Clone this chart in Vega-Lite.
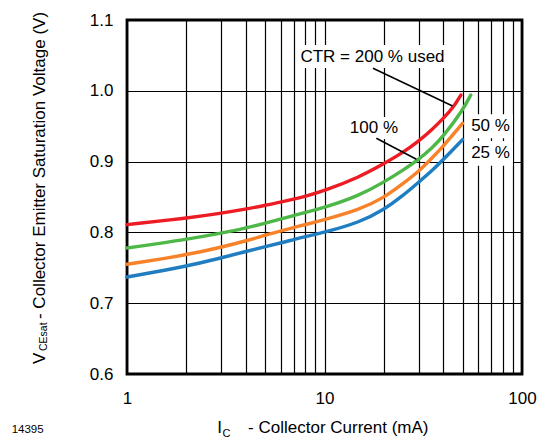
{
  "$schema": "https://vega.github.io/schema/vega-lite/v6.json",
  "width": 395,
  "height": 354,
  "autosize": "none",
  "padding": {"left": 127, "top": 20, "right": 18, "bottom": 64},
  "background": "white",
  "config": {
    "font": "Liberation Sans",
    "view": {"stroke": "black", "strokeWidth": 2.8},
    "axis": {
      "grid": true, "gridColor": "black", "gridOpacity": 1, "gridWidth": 1.2,
      "ticks": false, "domain": false, "labelColor": "black",
      "labelFont": "Liberation Sans", "labelFontSize": 17, "labelOverlap": false,
      "labelFlush": false, "labelBound": false
    }
  },
  "datasets": {
    "curves": [
      {"CTR": "200", "I": 1, "V": 0.811}, {"CTR": "200", "I": 2, "V": 0.820}, {"CTR": "200", "I": 3, "V": 0.827},
      {"CTR": "200", "I": 4, "V": 0.833}, {"CTR": "200", "I": 5, "V": 0.838}, {"CTR": "200", "I": 6, "V": 0.843},
      {"CTR": "200", "I": 7, "V": 0.847}, {"CTR": "200", "I": 8, "V": 0.851}, {"CTR": "200", "I": 10, "V": 0.859},
      {"CTR": "200", "I": 15, "V": 0.878}, {"CTR": "200", "I": 20, "V": 0.897}, {"CTR": "200", "I": 25, "V": 0.913},
      {"CTR": "200", "I": 30, "V": 0.929}, {"CTR": "200", "I": 35, "V": 0.945}, {"CTR": "200", "I": 40, "V": 0.961},
      {"CTR": "200", "I": 45, "V": 0.977}, {"CTR": "200", "I": 49, "V": 0.994},
      {"CTR": "100", "I": 1, "V": 0.778}, {"CTR": "100", "I": 2, "V": 0.790}, {"CTR": "100", "I": 3, "V": 0.799},
      {"CTR": "100", "I": 4, "V": 0.806}, {"CTR": "100", "I": 5, "V": 0.813}, {"CTR": "100", "I": 6, "V": 0.819},
      {"CTR": "100", "I": 7, "V": 0.824}, {"CTR": "100", "I": 8, "V": 0.828}, {"CTR": "100", "I": 10, "V": 0.835},
      {"CTR": "100", "I": 15, "V": 0.852}, {"CTR": "100", "I": 20, "V": 0.871}, {"CTR": "100", "I": 25, "V": 0.888},
      {"CTR": "100", "I": 30, "V": 0.903}, {"CTR": "100", "I": 35, "V": 0.919}, {"CTR": "100", "I": 40, "V": 0.936},
      {"CTR": "100", "I": 50, "V": 0.972}, {"CTR": "100", "I": 55, "V": 0.994},
      {"CTR": "50", "I": 1, "V": 0.755}, {"CTR": "50", "I": 2, "V": 0.768}, {"CTR": "50", "I": 3, "V": 0.779},
      {"CTR": "50", "I": 4, "V": 0.788}, {"CTR": "50", "I": 5, "V": 0.796}, {"CTR": "50", "I": 6, "V": 0.802},
      {"CTR": "50", "I": 7, "V": 0.807}, {"CTR": "50", "I": 8, "V": 0.811}, {"CTR": "50", "I": 10, "V": 0.818},
      {"CTR": "50", "I": 15, "V": 0.832}, {"CTR": "50", "I": 20, "V": 0.849}, {"CTR": "50", "I": 25, "V": 0.869},
      {"CTR": "50", "I": 30, "V": 0.886}, {"CTR": "50", "I": 35, "V": 0.905}, {"CTR": "50", "I": 40, "V": 0.922},
      {"CTR": "50", "I": 50, "V": 0.954},
      {"CTR": "25", "I": 1, "V": 0.737}, {"CTR": "25", "I": 2, "V": 0.752}, {"CTR": "25", "I": 3, "V": 0.764},
      {"CTR": "25", "I": 4, "V": 0.773}, {"CTR": "25", "I": 5, "V": 0.780}, {"CTR": "25", "I": 6, "V": 0.785},
      {"CTR": "25", "I": 7, "V": 0.790}, {"CTR": "25", "I": 8, "V": 0.794}, {"CTR": "25", "I": 10, "V": 0.800},
      {"CTR": "25", "I": 15, "V": 0.814}, {"CTR": "25", "I": 20, "V": 0.832}, {"CTR": "25", "I": 25, "V": 0.852},
      {"CTR": "25", "I": 30, "V": 0.871}, {"CTR": "25", "I": 35, "V": 0.887}, {"CTR": "25", "I": 40, "V": 0.903},
      {"CTR": "25", "I": 50, "V": 0.931}
    ],
    "one": [{}]
  },
  "layer": [
    {
      "data": {"name": "one"},
      "mark": {"type": "rect", "fill": "white", "strokeWidth": 0},
      "encoding": {
        "x": {"datum": 7.2, "type": "quantitative", "scale": {"type": "log", "domain": [1, 100], "nice": false},
              "axis": {"values": [1,2,3,4,5,6,7,8,9,10,20,30,40,50,60,70,80,90,100], "format": "d",
                       "labelExpr": "datum.value == 1 || datum.value == 10 || datum.value == 100 ? datum.label : ''",
                       "labelPadding": 16, "title": null}},
        "x2": {"datum": 42.3},
        "y": {"datum": 1.0322, "type": "quantitative", "scale": {"domain": [0.6, 1.1], "nice": false, "zero": false},
              "axis": {"values": [0.6,0.65,0.7,0.75,0.8,0.85,0.9,0.95,1.0,1.05,1.1],
                       "labelExpr": "round(datum.value*100) % 10 == 0 ? format(datum.value, '.1f') : ''",
                       "labelPadding": 14, "title": null}},
        "y2": {"datum": 1.0647}
      }
    },
    {
      "data": {"name": "one"},
      "mark": {"type": "rect", "fill": "white", "strokeWidth": 0},
      "encoding": {"x": {"datum": 12.7}, "x2": {"datum": 25.0}, "y": {"datum": 0.932}, "y2": {"datum": 0.963}}
    },
    {
      "data": {"name": "one"},
      "mark": {"type": "rect", "fill": "white", "strokeWidth": 0},
      "encoding": {"x": {"datum": 53.2}, "x2": {"datum": 89.9}, "y": {"datum": 0.933}, "y2": {"datum": 0.967}}
    },
    {
      "data": {"name": "one"},
      "mark": {"type": "rect", "fill": "white", "strokeWidth": 0},
      "encoding": {"x": {"datum": 53.2}, "x2": {"datum": 89.9}, "y": {"datum": 0.894}, "y2": {"datum": 0.929}}
    },
    {
      "data": {"name": "curves"},
      "mark": {"type": "line", "strokeWidth": 3.4, "strokeCap": "round", "interpolate": "basis", "clip": false},
      "encoding": {
        "x": {"field": "I", "type": "quantitative"},
        "y": {"field": "V", "type": "quantitative"},
        "color": {"field": "CTR", "type": "nominal",
                  "scale": {"domain": ["200", "100", "50", "25"], "range": ["#ED1C24", "#4DB848", "#F7822A", "#1F7DC1"]},
                  "legend": null}
      }
    },
    {
      "data": {"name": "one"},
      "mark": {"type": "rule", "color": "black", "strokeWidth": 1.5},
      "encoding": {"x": {"datum": 17.6}, "y": {"datum": 1.0318}, "x2": {"datum": 44.5}, "y2": {"datum": 0.9785}}
    },
    {
      "data": {"name": "one"},
      "mark": {"type": "rule", "color": "black", "strokeWidth": 1.5},
      "encoding": {"x": {"datum": 18.3}, "y": {"datum": 0.933}, "x2": {"datum": 29.2}, "y2": {"datum": 0.9033}}
    },
    {
      "data": {"name": "one"},
      "mark": {"type": "text", "text": "CTR = 200 % used", "fontSize": 17, "align": "center", "baseline": "middle", "color": "black"},
      "encoding": {"x": {"datum": 17.5}, "y": {"datum": 1.048}}
    },
    {
      "data": {"name": "one"},
      "mark": {"type": "text", "text": "100 %", "fontSize": 17, "align": "center", "baseline": "middle", "color": "black"},
      "encoding": {"x": {"datum": 17.8}, "y": {"datum": 0.948}}
    },
    {
      "data": {"name": "one"},
      "mark": {"type": "text", "text": "50 %", "fontSize": 17, "align": "center", "baseline": "middle", "color": "black"},
      "encoding": {"x": {"datum": 69.3}, "y": {"datum": 0.950}}
    },
    {
      "data": {"name": "one"},
      "mark": {"type": "text", "text": "25 %", "fontSize": 17, "align": "center", "baseline": "middle", "color": "black"},
      "encoding": {"x": {"datum": 69.3}, "y": {"datum": 0.9117}}
    },
    {
      "data": {"name": "one"},
      "mark": {"type": "text", "text": "I", "fontSize": 17, "align": "right", "baseline": "alphabetic", "color": "black", "clip": false},
      "encoding": {"x": {"datum": 3.03}, "y": {"datum": 0.5163}}
    },
    {
      "data": {"name": "one"},
      "mark": {"type": "text", "text": "C", "fontSize": 11, "align": "left", "baseline": "alphabetic", "dx": 0.5, "dy": 3.5, "color": "black", "clip": false},
      "encoding": {"x": {"datum": 3.03}, "y": {"datum": 0.5163}}
    },
    {
      "data": {"name": "one"},
      "mark": {"type": "text", "text": "- Collector Current (mA)", "fontSize": 17, "align": "left", "baseline": "alphabetic", "dx": 26, "color": "black", "clip": false},
      "encoding": {"x": {"datum": 3.03}, "y": {"datum": 0.5163}}
    },
    {
      "data": {"name": "one"},
      "mark": {"type": "text", "text": "V", "fontSize": 17, "angle": 270, "align": "left", "baseline": "alphabetic", "color": "black", "clip": false},
      "encoding": {"x": {"datum": 0.383}, "y": {"datum": 0.6141}}
    },
    {
      "data": {"name": "one"},
      "mark": {"type": "text", "text": "CEsat", "fontSize": 10.5, "angle": 270, "align": "left", "baseline": "alphabetic", "dx": 13, "dy": 2, "color": "black", "clip": false},
      "encoding": {"x": {"datum": 0.383}, "y": {"datum": 0.6141}}
    },
    {
      "data": {"name": "one"},
      "mark": {"type": "text", "text": "- Collector Emitter Saturation Voltage (V)", "fontSize": 17, "angle": 270, "align": "left", "baseline": "alphabetic", "dx": 45, "color": "black", "clip": false},
      "encoding": {"x": {"datum": 0.383}, "y": {"datum": 0.6141}}
    },
    {
      "data": {"name": "one"},
      "mark": {"type": "text", "text": "14395", "fontSize": 11.5, "align": "left", "baseline": "alphabetic", "color": "black", "clip": false},
      "encoding": {"x": {"datum": 0.2606}, "y": {"datum": 0.5167}}
    }
  ]
}
